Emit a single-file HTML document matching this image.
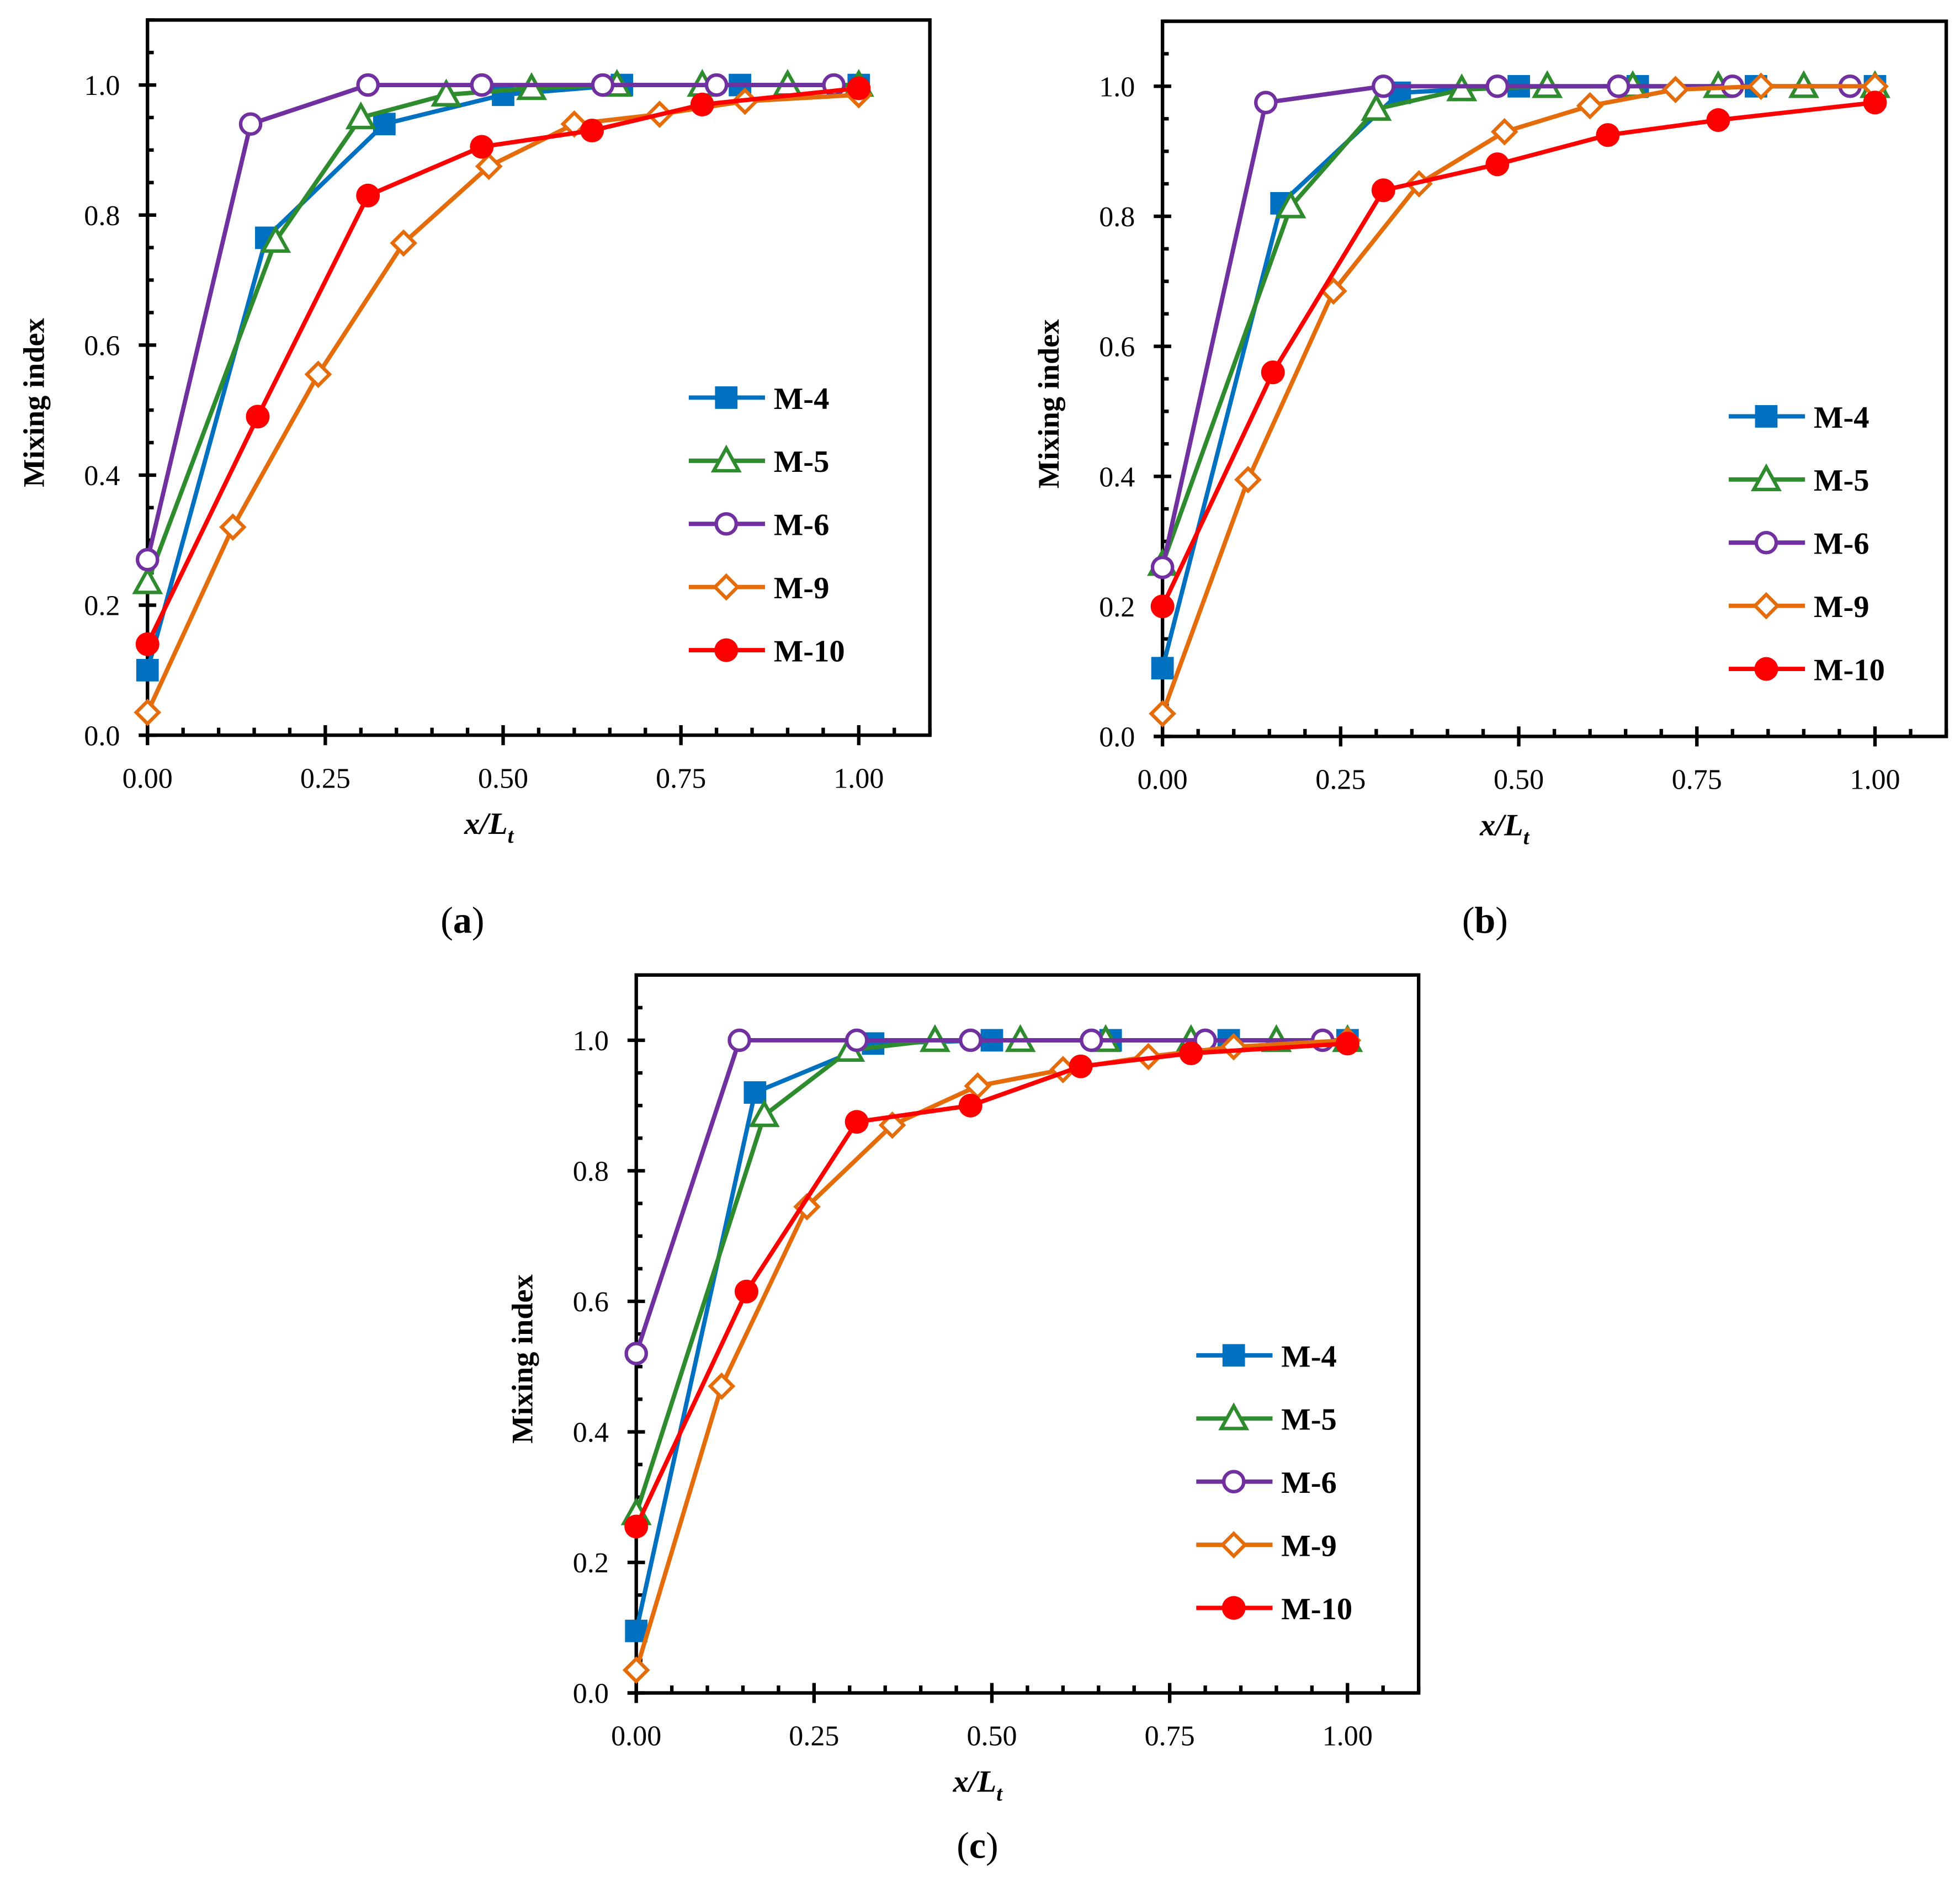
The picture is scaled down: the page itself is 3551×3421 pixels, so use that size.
<!DOCTYPE html>
<html><head><meta charset="utf-8">
<style>
html,body{margin:0;padding:0;background:#fff;}
svg{display:block;}
text{font-family:"Liberation Serif",serif;}
</style></head>
<body>
<svg id="fig" width="3551" height="3421" viewBox="0 0 1568 1510" preserveAspectRatio="none" xmlns="http://www.w3.org/2000/svg"></svg>
<script>
// ---- data ----
const seriesNames = ["M-4","M-5","M-6","M-9","M-10"];
const xM4 = [0,0.167,0.333,0.5,0.667,0.833,1.0];
const xM5 = [0,0.18,0.30,0.42,0.54,0.66,0.78,0.90,1.0];
const xM6 = [0,0.145,0.31,0.47,0.64,0.80,0.965];
const xM9 = [0,0.12,0.24,0.36,0.48,0.60,0.72,0.84,1.0];
const xM10 = [0,0.155,0.31,0.47,0.625,0.78,1.0];
const aM4 = [0.10,0.765,0.94,0.985,1.0,1.0,1.0];
const aM5 = [0.235,0.76,0.95,0.985,0.995,1.0,1.0,1.0,1.0];
const aM6 = [0.27,0.94,1.0,1.0,1.0,1.0,1.0];
const aM9 = [0.035,0.32,0.555,0.757,0.875,0.94,0.955,0.975,0.985];
const aM10 = [0.14,0.49,0.83,0.905,0.93,0.97,0.995];
const bM4 = [0.105,0.82,0.99,1.0,1.0,1.0,1.0];
const bM5 = [0.265,0.815,0.965,0.995,1.0,1.0,1.0,1.0,1.0];
const bM6 = [0.26,0.975,1.0,1.0,1.0,1.0,1.0];
const bM9 = [0.035,0.395,0.685,0.85,0.93,0.97,0.995,1.0,1.0];
const bM10 = [0.20,0.56,0.84,0.88,0.925,0.948,0.975];
const cM4 = [0.095,0.92,0.995,1.0,1.0,1.0,1.0];
const cM5 = [0.275,0.885,0.985,1.0,1.0,1.0,1.0,1.0,1.0];
const cM6 = [0.52,1.0,1.0,1.0,1.0,1.0,1.0];
const cM9 = [0.035,0.47,0.745,0.87,0.93,0.955,0.975,0.99,1.0];
const cM10 = [0.255,0.615,0.875,0.90,0.96,0.98,0.995];
const xTickLabels = ["0.00","0.25","0.50","0.75","1.00"];
const yTickLabels = ["0.0","0.2","0.4","0.6","0.8","1.0"];

const NS="http://www.w3.org/2000/svg";
const svg=document.getElementById('fig');
const colors=["#0070C0","#2E8B2E","#7030A0","#E46C0A","#FF0000"];
const markers=["square","triangle","circle","diamond","dot"];

function mk(tag,attrs,parent){const e=document.createElementNS(NS,tag);for(const k in attrs)e.setAttribute(k,attrs[k]);(parent||svg).appendChild(e);return e;}

function marker(g,type,cx,cy,col){
  let e;
  if(type==="square"){e=mk('rect',{x:cx-9,y:cy-9,width:18,height:18,fill:col},g);}
  else if(type==="triangle"){e=mk('polygon',{points:`${cx},${cy-10} ${cx+10},${cy+8} ${cx-10},${cy+8}`,fill:'#fff',stroke:col,'stroke-width':2.8},g);}
  else if(type==="circle"){e=mk('circle',{cx:cx,cy:cy,r:8,fill:'#fff',stroke:col,'stroke-width':2.8},g);}
  else if(type==="diamond"){e=mk('polygon',{points:`${cx},${cy-9} ${cx+9},${cy} ${cx},${cy+9} ${cx-9},${cy}`,fill:'#fff',stroke:col,'stroke-width':2.8},g);}
  else {e=mk('circle',{cx:cx,cy:cy,r:9.5,fill:col},g);}
  return e;
}

function panel(id,x0,x1,y0,y1,legX,legY,label,labX,labY,xs,ys){
  const g=mk('g',{});
  
  
  const sx=v=>x0+(x1-x0)*v;
  const sy=v=>y0-(y0-y1)*v;
  const right=sx(1.1), top=sy(1.1);
  const frame=mk('rect',{x:x0,y:top,width:right-x0,height:y0-top,fill:'none',stroke:'#000','stroke-width':2.8},g);
  
  
  for(let i=0;i<=22;i++){
    const v=i*0.05, yy=sy(v), major=(i%4===0);
    mk('line',{x1:major?x0-7:x0,x2:x0+(major?7:5),y1:yy,y2:yy,stroke:'#000','stroke-width':2.8},g);
  }
  yTickLabels.forEach((t,i)=>{
    const tx=mk('text',{x:x0-22,y:sy(i*0.2)+8,'text-anchor':'end','font-size':23,fill:'#000'},g);
    tx.textContent=t;
    
    
  });
  for(let i=0;i<=22;i++){
    const v=i*0.05, xx=sx(v), major=(i%5===0);
    mk('line',{x1:xx,x2:xx,y1:y0-(major?8:6),y2:major?y0+8:y0,stroke:'#000','stroke-width':2.8},g);
  }
  mk('line',{x1:x0-7,x2:x0,y1:y0,y2:y0,stroke:'#000','stroke-width':2.8},g);
  xTickLabels.forEach((t,i)=>{
    const tx=mk('text',{x:sx(i*0.25),y:y0+42,'text-anchor':'middle','font-size':23,fill:'#000'},g);
    tx.textContent=t;
    
    
  });
  const yt=mk('text',{x:0,y:0,transform:`translate(${x0-83},${(y0+top)/2+20}) rotate(-90)`,'text-anchor':'middle','font-size':24,'font-weight':'bold',fill:'#000'},g);
  yt.textContent='Mixing index';
  
  
  const xt=mk('text',{x:sx(0.48),y:y0+79,'text-anchor':'middle','font-size':25,'font-weight':'bold','font-style':'italic',fill:'#000'},g);
  xt.innerHTML='x/L<tspan font-size="17" dy="7">t</tspan>';
  
  
  for(let s=0;s<5;s++){
    const sg=mk('g',{},g);
    
    
    const pts=xs[s].map((xv,i)=>sx(xv)+','+sy(ys[s][i])).join(' ');
    mk('polyline',{points:pts,fill:'none',stroke:colors[s],'stroke-width':3.5},sg);
    xs[s].forEach((xv,i)=>{
      const m=marker(sg,markers[s],sx(xv),sy(ys[s][i]),colors[s]);
      
      
    });
  }
  for(let s=0;s<5;s++){
    const lg=mk('g',{},g);
    
    
    const ly=legY+s*50.5;
    mk('line',{x1:legX,x2:legX+61,y1:ly,y2:ly,stroke:colors[s],'stroke-width':3.5},lg);
    marker(lg,markers[s],legX+30,ly,colors[s]);
    const lt=mk('text',{x:legX+68,y:ly+9,'font-size':25,'font-weight':'bold',fill:'#000'},lg);
    lt.textContent=seriesNames[s];
  }
  const pl=mk('text',{x:labX,y:labY,'text-anchor':'middle','font-size':30,fill:'#000'},g);
  pl.innerHTML='(<tspan font-weight="bold">'+label+'</tspan>)';
  
  
}
const xsAll=[xM4,xM5,xM6,xM9,xM10];
panel('a',118,687,588,68,551,318,'a',370,746,xsAll,[aM4,aM5,aM6,aM9,aM10]);
panel('b',930,1500,589,69,1383,333,'b',1188,746,xsAll,[bM4,bM5,bM6,bM9,bM10]);
panel('c',509,1078,1354,832,957,1084,'c',782,1486,xsAll,[cM4,cM5,cM6,cM9,cM10]);
</script>
</body></html>
